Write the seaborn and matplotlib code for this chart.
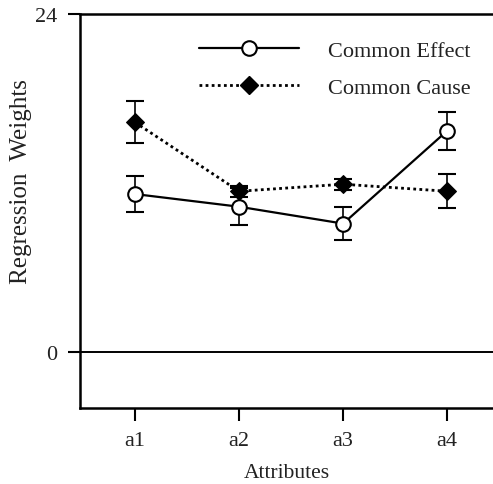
import matplotlib
matplotlib.use("Agg")
import matplotlib.pyplot as plt
import seaborn as sns
import pandas as pd
from matplotlib.lines import Line2D

attributes = ["a1", "a2", "a3", "a4"]
positions = [1, 2, 3, 4]
common_effect = [11.2, 10.3, 9.1, 15.7]
common_effect_err = [1.3, 1.3, 1.2, 1.35]
common_cause = [16.3, 11.4, 11.9, 11.4]
common_cause_err = [1.5, 0.4, 0.4, 1.2]
y_ticks = [0, 24]

sns.set_style("white")
plt.rcParams["font.family"] = ["Liberation Serif", "DejaVu Serif"]

df_ce = pd.DataFrame({"x": positions, "y": common_effect})
df_cc = pd.DataFrame({"x": positions, "y": common_cause})

fig = plt.figure(figsize=(4.93, 4.85), dpi=100)
ax = fig.add_axes([0.162, 0.157, 0.838, 0.812])

lw = 1.6
dot = (0, (1, 1.2))
ax.errorbar(positions, common_effect, yerr=common_effect_err, fmt="none",
            ecolor="black", elinewidth=1.2, capsize=6.5, capthick=1.5, zorder=2)
ax.errorbar(positions, common_cause, yerr=common_cause_err, fmt="none",
            ecolor="black", elinewidth=1.2, capsize=6.5, capthick=1.5, zorder=2)

sns.lineplot(data=df_cc, x="x", y="y", ax=ax, color="black", linestyle=dot,
             linewidth=2.0, marker="D", markersize=9.5, markerfacecolor="black",
             markeredgecolor="black", zorder=3)
sns.lineplot(data=df_ce, x="x", y="y", ax=ax, color="black", linestyle="-",
             linewidth=lw, marker="o", markersize=10.5, markerfacecolor="white",
             markeredgecolor="black", markeredgewidth=1.5, zorder=4)

ax.axhline(0, color="black", linewidth=1.4, zorder=1)

ax.set_xlim(0.47, 4.44)
ax.set_ylim(-4, 24)
ax.set_xticks(positions)
ax.set_xticklabels(attributes)
ax.set_yticks(y_ticks)
ax.tick_params(axis="both", which="major", bottom=True, left=True, direction="out",
               length=9, width=1.5, labelsize=16, color="black", labelcolor="#222222")
ax.tick_params(axis="x", pad=8)
ax.tick_params(axis="y", pad=7)
for side in ["left", "bottom", "top"]:
    ax.spines[side].set_color("black")
    ax.spines[side].set_linewidth(1.8)
ax.spines["right"].set_visible(False)

ax.set_xlabel("Attributes", fontsize=15.5, color="#222222", labelpad=9)
ax.set_ylabel("Regression  Weights", fontsize=18, color="#222222")
ax.yaxis.set_label_coords(-0.115, 0.576)

handles = [
    Line2D([], [], color="black", linestyle="-", linewidth=lw, marker="o", markersize=10.5,
           markerfacecolor="white", markeredgecolor="black", markeredgewidth=1.5),
    Line2D([], [], color="black", linestyle=dot, linewidth=2.0, marker="D",
           markersize=9.5, markerfacecolor="black", markeredgecolor="black"),
]
ax.legend(handles, ["Common Effect", "Common Cause"], loc="upper left",
          bbox_to_anchor=(0.261, 0.962), frameon=False, fontsize=16,
          handlelength=4.5, handletextpad=1.3, labelspacing=0.75, borderpad=0,
          labelcolor="#222222")

fig.savefig("out.png", dpi=100, facecolor="white")
